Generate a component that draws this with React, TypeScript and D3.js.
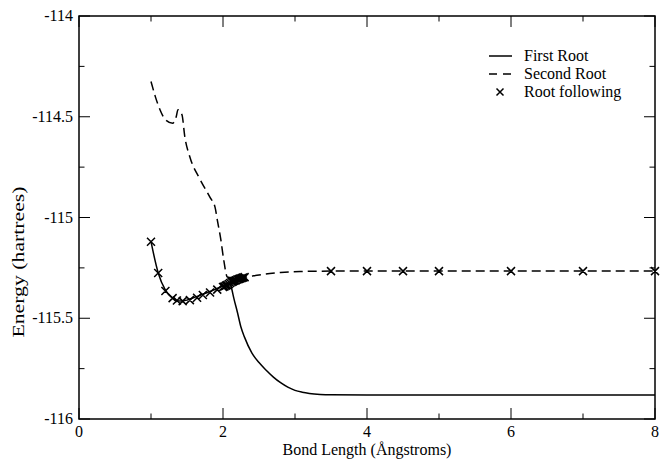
import React from 'react';
import * as d3 from 'd3';

// first root (solid line)
const firstRootX = [1.0, 1.1, 1.2, 1.3, 1.4, 1.5, 1.6, 1.7, 1.8, 1.9, 2.0, 2.1, 2.125, 2.15, 2.2, 2.25, 2.3, 2.4, 2.5, 2.6, 2.7, 2.8, 2.9, 3.0, 3.1, 3.2, 3.35, 3.5, 4.0, 5.0, 6.0, 7.0, 8.0];
const firstRootE = [-115.12, -115.275, -115.36, -115.4, -115.415, -115.41, -115.397, -115.383, -115.37, -115.355, -115.34, -115.325, -115.36, -115.4, -115.47, -115.545, -115.595, -115.672, -115.72, -115.758, -115.792, -115.82, -115.842, -115.858, -115.867, -115.873, -115.878, -115.88, -115.881, -115.881, -115.881, -115.881, -115.881];

// second root (dashed line)
const secondRootX = [1.0, 1.06, 1.125, 1.2, 1.3, 1.35, 1.375, 1.43, 1.47, 1.54, 1.68, 1.82, 1.89, 1.92, 1.97, 2.01, 2.06, 2.15, 2.33, 2.5, 2.65, 2.8, 3.07, 3.5, 4.0, 5.0, 6.0, 7.0, 8.0];
const secondRootE = [-114.325, -114.4, -114.465, -114.515, -114.532, -114.5, -114.465, -114.49, -114.6, -114.7, -114.81, -114.9, -114.95, -115.01, -115.11, -115.21, -115.295, -115.3, -115.295, -115.285, -115.278, -115.273, -115.268, -115.266, -115.266, -115.266, -115.266, -115.266, -115.266];

// root following (x markers)
const followX = [1.0, 1.1, 1.2, 1.3, 1.36, 1.44, 1.54, 1.64, 1.72, 1.82, 1.92, 2.0, 2.02, 2.04, 2.06, 2.08, 2.1, 2.12, 2.14, 2.16, 2.18, 2.2, 2.22, 2.24, 2.26, 2.28, 2.3, 3.5, 4.0, 4.5, 5.0, 6.0, 7.0, 8.0];
const followE = [-115.12, -115.275, -115.365, -115.4, -115.412, -115.415, -115.41, -115.398, -115.385, -115.372, -115.358, -115.345, -115.342, -115.338, -115.335, -115.33, -115.325, -115.32, -115.317, -115.314, -115.311, -115.308, -115.305, -115.303, -115.3, -115.298, -115.296, -115.266, -115.266, -115.266, -115.266, -115.266, -115.266, -115.266];

const xMajor = [0, 2, 4, 6, 8];
const xMinor = [1, 3, 5, 7];
const yMajor = [-114, -114.5, -115, -115.5, -116];
const yMinor = [-114.25, -114.75, -115.25, -115.75];

const legendLabels = ['First Root', 'Second Root', 'Root following'];

const W = 660;
const H = 459;
const margin = { left: 79, right: 5, top: 16, bottom: 40 };
const font = '"Liberation Serif", "Times New Roman", serif';

export default function App() {
  const x = d3.scaleLinear().domain([0, 8]).range([margin.left, W - margin.right]);
  const y = d3.scaleLinear().domain([-116, -114]).range([H - margin.bottom, margin.top]);

  const line = d3
    .line<[number, number]>()
    .x(d => x(d[0]))
    .y(d => y(d[1]))
    .curve(d3.curveMonotoneX);

  const first = line(firstRootX.map((v, i) => [v, firstRootE[i]]));
  const second = line(secondRootX.map((v, i) => [v, secondRootE[i]]));

  const x0 = x(0), x1 = x(8), y0 = y(-116), y1 = y(-114);
  const cross = (cx: number, cy: number, s = 4) =>
    `M${cx - s},${cy - s}L${cx + s},${cy + s}M${cx - s},${cy + s}L${cx + s},${cy - s}`;

  return (
    <div style={{ position: 'absolute', left: 0, top: 0 }}>
      <svg width={W} height={H} style={{ display: 'block', background: '#fff' }} fontFamily={font}>
        {/* ticks on all four sides, pointing inward */}
        <g stroke="#000" strokeWidth={1}>
          {xMajor.map(t => (
            <g key={'xM' + t}>
              <line x1={x(t)} x2={x(t)} y1={y0} y2={y0 - 11} />
              <line x1={x(t)} x2={x(t)} y1={y1} y2={y1 + 11} />
            </g>
          ))}
          {xMinor.map(t => (
            <g key={'xm' + t}>
              <line x1={x(t)} x2={x(t)} y1={y0} y2={y0 - 5.5} />
              <line x1={x(t)} x2={x(t)} y1={y1} y2={y1 + 5.5} />
            </g>
          ))}
          {yMajor.map(t => (
            <g key={'yM' + t}>
              <line x1={x0} x2={x0 + 11} y1={y(t)} y2={y(t)} />
              <line x1={x1} x2={x1 - 11} y1={y(t)} y2={y(t)} />
            </g>
          ))}
          {yMinor.map(t => (
            <g key={'ym' + t}>
              <line x1={x0} x2={x0 + 5.5} y1={y(t)} y2={y(t)} />
              <line x1={x1} x2={x1 - 5.5} y1={y(t)} y2={y(t)} />
            </g>
          ))}
        </g>
        <rect x={x0} y={y1} width={x1 - x0} height={y0 - y1} fill="none" stroke="#000" strokeWidth={1.5} />

        {/* tick labels */}
        <g fontSize={16} fill="#000">
          {xMajor.map(t => (
            <text key={'xl' + t} x={x(t)} y={y0 + 18} textAnchor="middle">{t}</text>
          ))}
          {yMajor.map(t => (
            <text key={'yl' + t} x={x0 - 6} y={y(t) + 5} textAnchor="end">{t}</text>
          ))}
        </g>

        {/* axis titles */}
        <text x={(x0 + x1) / 2} y={455} textAnchor="middle" fontSize={16}>Bond Length (Ångstroms)</text>
        <text transform="translate(24,262) rotate(-90) scale(1.36,1)" textAnchor="middle" fontSize={16}>
          Energy (hartrees)
        </text>

        {/* curves */}
        <path d={second ?? ''} fill="none" stroke="#000" strokeWidth={1.5} strokeDasharray="9,5" />
        <path d={first ?? ''} fill="none" stroke="#000" strokeWidth={1.5} />
        <path
          d={followX.map((v, i) => cross(x(v), y(followE[i]))).join('')}
          fill="none"
          stroke="#000"
          strokeWidth={1.5}
        />

        {/* legend */}
        <g fontSize={16}>
          <line x1={489} x2={512} y1={56} y2={56} stroke="#000" strokeWidth={1.5} />
          <line x1={489} x2={512} y1={74} y2={74} stroke="#000" strokeWidth={1.5} strokeDasharray="8,6" />
          <path d={cross(500, 92, 3.5)} stroke="#000" strokeWidth={1.5} />
          {legendLabels.map((l, i) => (
            <text key={l} x={524} y={61 + i * 18}>{l}</text>
          ))}
        </g>
      </svg>
    </div>
  );
}
